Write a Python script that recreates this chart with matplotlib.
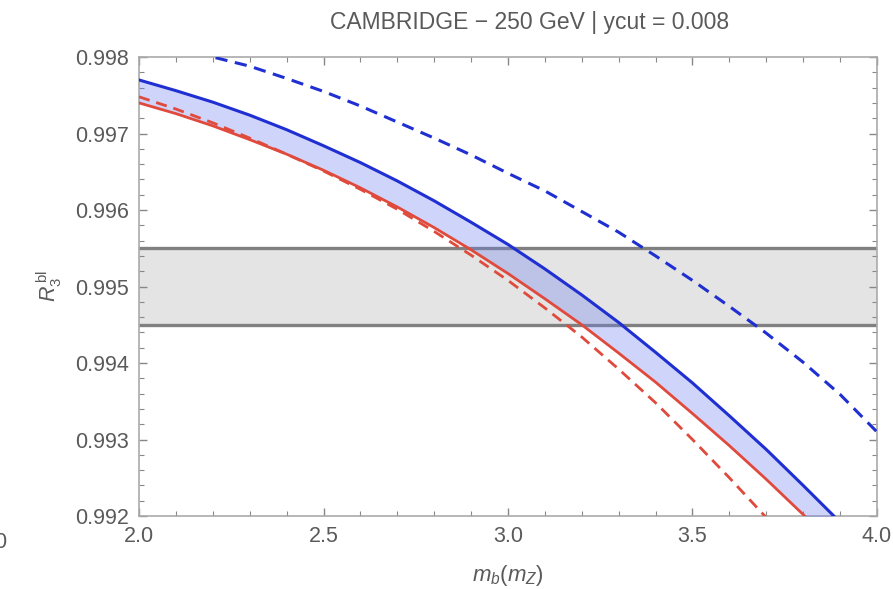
import numpy as np
import matplotlib.pyplot as plt
from matplotlib.ticker import MultipleLocator

plt.rcParams['font.family'] = ['Liberation Sans', 'DejaVu Sans']
plt.rcParams['mathtext.fontset'] = 'custom'
plt.rcParams['mathtext.rm'] = 'Liberation Sans'
plt.rcParams['mathtext.it'] = 'Liberation Sans:italic'

# m_b(m_Z) Stuetzstellen
mb = [2.0, 2.1, 2.2, 2.3, 2.4, 2.5, 2.6, 2.7, 2.8, 2.9, 3.0,
      3.1, 3.2, 3.3, 3.4, 3.5, 3.6, 3.7, 3.8, 3.9, 4.0]

# R3^bl Kurven
blue_solid = [0.99770, 0.99756, 0.99741, 0.99724, 0.99705, 0.99684, 0.99662,
              0.99638, 0.99612, 0.99584, 0.99555, 0.99523, 0.99489, 0.99453,
              0.99414, 0.99374, 0.99331, 0.99287, 0.99240, 0.99192, 0.99143]
blue_dashed = [0.99827, 0.99815, 0.99800, 0.99788, 0.99772, 0.99755, 0.99736,
               0.99715, 0.99694, 0.99672, 0.99648, 0.99625, 0.99598, 0.99571,
               0.99540, 0.99508, 0.99474, 0.99439, 0.99401, 0.99359, 0.99310]
red_solid = [0.99740, 0.99726, 0.99710, 0.99692, 0.99673, 0.99652, 0.99629,
             0.99604, 0.99577, 0.99548, 0.99517, 0.99484, 0.99450, 0.99413,
             0.99375, 0.99334, 0.99292, 0.99248, 0.99202, 0.99154, 0.99105]
red_dashed = [0.99748, 0.99732, 0.99714, 0.99694, 0.99673, 0.99651, 0.99627,
              0.99601, 0.99572, 0.99541, 0.99508, 0.99472, 0.99434, 0.99392,
              0.99348, 0.99300, 0.99250, 0.99198, 0.99142, 0.99084, 0.99024]

# Messband
band_low, band_high = 0.9945, 0.9955

blue = '#1f2fd2'
red = '#e04a3c'
grey_text = '#5a5a5a'

fig = plt.figure(figsize=(8.93, 5.89), dpi=100)
ax = fig.add_axes([0.1557, 0.1239, 0.8263, 0.7793])

ax.axhspan(band_low, band_high, color='#e4e4e4', zorder=1)
ax.axhline(band_low, color='#808080', lw=2.4, zorder=2)
ax.axhline(band_high, color='#808080', lw=2.4, zorder=2)

ax.fill_between(mb, red_solid, blue_solid, color='#6f7ff0', alpha=0.33,
                lw=0, zorder=3)
ax.plot(mb, blue_dashed, color=blue, lw=2.2, ls=(0, (4, 2.5)), zorder=4)
ax.plot(mb, red_dashed, color=red, lw=2.0, ls=(0, (4, 2.5)), zorder=4)
ax.plot(mb, red_solid, color=red, lw=2.0, zorder=5)
ax.plot(mb, blue_solid, color=blue, lw=2.2, zorder=5)

ax.set_xlim(2.0, 4.0)
ax.set_ylim(0.992, 0.998)
ax.xaxis.set_major_locator(MultipleLocator(0.5))
ax.xaxis.set_minor_locator(MultipleLocator(0.1))
ax.yaxis.set_major_locator(MultipleLocator(0.001))
ax.yaxis.set_minor_locator(MultipleLocator(0.0002))
ax.xaxis.set_major_formatter(plt.FuncFormatter(lambda v, p: f'{v:.1f}'))
ax.yaxis.set_major_formatter(plt.FuncFormatter(lambda v, p: f'{v:.3f}'))

ax.tick_params(which='both', direction='in', top=True, right=True,
               color='#888888', labelcolor=grey_text, labelsize=15.5,
               labeltop=False, labelright=False)
ax.tick_params(which='major', length=6, width=1)
ax.tick_params(which='minor', length=3.5, width=0.8)
ax.tick_params(axis='x', pad=7)
ax.tick_params(axis='y', pad=7)
for s in ax.spines.values():
    s.set_color('#aaaaaa')
    s.set_linewidth(1.2)

# Titel etwas rechts der Achsenmitte wie im Original
fig.text(530 / 893, 1 - 22 / 589, 'CAMBRIDGE \u2212 250 GeV | ycut = 0.008',
         ha='center', va='center', color=grey_text, fontsize=16.5)
ax.set_xlabel('$m_b(m_Z)$', color=grey_text, fontsize=16, labelpad=12)
ax.set_ylabel('$R_3^{\\,\\mathrm{bl}}$', color=grey_text, fontsize=15.5,
              labelpad=8)

# abgeschnittene Beschriftung am linken Rand
fig.text(0.007, (589 - 542) / 589, '0', ha='right', va='center',
         color=grey_text, fontsize=15.5)

fig.savefig('out.png', dpi=100)
